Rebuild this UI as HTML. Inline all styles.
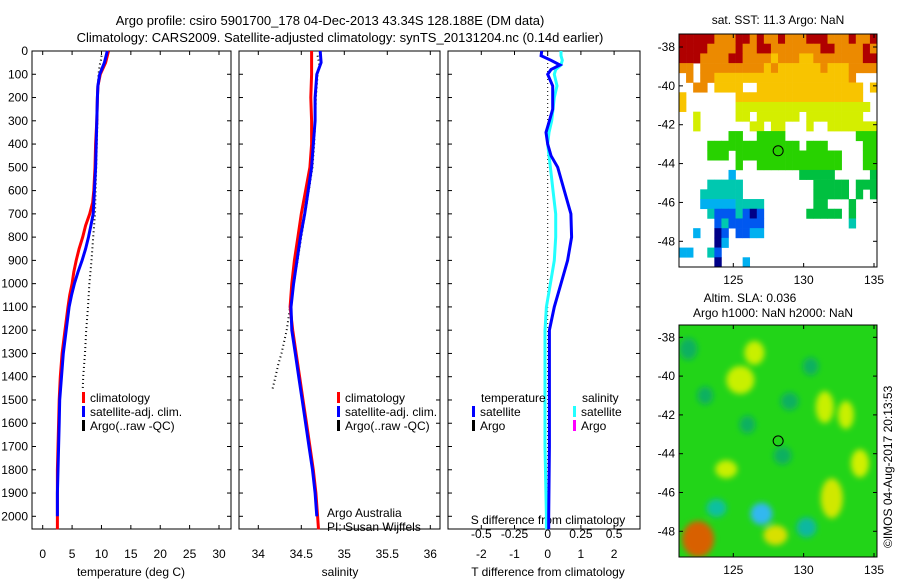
<!DOCTYPE html>
<html><head><meta charset="utf-8"><style>
body{margin:0;background:#fff;}
svg{display:block;font-family:"Liberation Sans",sans-serif;}
text{font-size:12px;fill:#000;}
</style></head><body>
<svg id="s" width="900" height="580" xmlns="http://www.w3.org/2000/svg">
<text x="330" y="25" text-anchor="middle" style="font-size:13px">Argo profile: csiro 5901700_178 04-Dec-2013 43.34S 128.188E (DM data)</text>
<text x="340" y="42" text-anchor="middle" style="font-size:13px">Climatology: CARS2009. Satellite-adjusted climatology: synTS_20131204.nc (0.14d earlier)</text>
<text x="778" y="24" text-anchor="middle">sat. SST: 11.3 Argo: NaN</text>
<text x="750" y="302" text-anchor="middle">Altim. SLA: 0.036</text>
<text x="773" y="317" text-anchor="middle">Argo h1000: NaN h2000: NaN</text>
<text transform="translate(892,548) rotate(-90)">©IMOS 04-Aug-2017 20:13:53</text>
<text x="327" y="517">Argo Australia</text>
<text x="327" y="531">PI: Susan Wijffels</text>
<defs><filter id="bl" x="-50%" y="-50%" width="200%" height="200%"><feGaussianBlur stdDeviation="3"/></filter>
<clipPath id="c2"><rect x="679" y="325" width="198" height="232"/></clipPath></defs>
</svg>
<script>
// ---- data ----
const depthTicks=[0,100,200,300,400,500,600,700,800,900,1000,1100,1200,1300,1400,1500,1600,1700,1800,1900,2000];
const tempTicks=[0,5,10,15,20,25,30];
const salTicks=[34,34.5,35,35.5,36];
const tdiffTicks=[-2,-1,0,1,2];
const sdiffTicks=[-0.5,-0.25,0,0.25,0.5];
const sdiffLabels=["-0.5","-0.25","0","0.25","0.5"];
const climDepth=[0,50,100,150,200,300,400,500,600,650,700,750,800,850,900,950,1000,1050,1100,1200,1300,1400,1500,1600,1700,1800,1900,2000,2056];
const climTemp=[11.2,10.7,9.8,9.4,9.3,9.2,9.0,8.9,8.7,8.5,8.0,7.3,6.8,6.2,5.7,5.3,5.0,4.6,4.3,3.8,3.3,3.0,2.8,2.7,2.6,2.5,2.5,2.5,2.5];
const satDepth=[0,50,100,150,200,300,400,500,600,650,700,750,800,850,900,950,1000,1050,1100,1200,1300,1400,1500,1600,1700,1800,1900,2000];
const satTemp=[11.0,10.5,9.7,9.4,9.3,9.2,9.1,9.0,8.8,8.7,8.6,8.2,7.8,7.3,6.7,6.0,5.4,4.9,4.5,4.0,3.5,3.2,2.9,2.8,2.7,2.6,2.5,2.5];
const argoDepth=[20,40,60,80,100,200,300,400,500,600,700,800,900,1000,1100,1200,1300,1400,1460];
const argoTemp=[10.0,9.9,9.7,9.6,9.5,9.3,9.3,9.2,9.1,9.0,8.9,8.6,8.3,7.95,7.7,7.4,7.2,6.9,6.8];
const salDepth=[0,100,200,300,400,500,600,700,800,900,1000,1100,1200,1300,1400,1500,1600,1700,1800,1900,2000,2056];
const climSal=[34.62,34.62,34.61,34.62,34.62,34.6,34.55,34.5,34.46,34.42,34.39,34.37,34.4,34.44,34.48,34.52,34.56,34.6,34.64,34.67,34.69,34.7];
const satSalDepth=[0,50,100,200,300,400,500,600,700,800,900,1000,1100,1200,1300,1400,1500,1600,1700,1800,1900,2000];
const satSal=[34.72,34.73,34.68,34.66,34.66,34.64,34.62,34.58,34.54,34.49,34.45,34.41,34.38,34.39,34.43,34.47,34.51,34.55,34.59,34.63,34.66,34.68];
const argoSalDepth=[20,60,100,200,300,400,500,1100,1150,1200,1250,1300,1350,1400,1460];
const argoSal=[34.69,34.71,34.69,34.67,34.66,34.65,34.63,34.37,34.35,34.33,34.30,34.27,34.23,34.2,34.16];
const diffDepth=[0,20,40,60,80,100,150,200,250,300,350,400,450,500,600,700,800,900,1000,1100,1200,1300,1500,1700,2000,2056];
const tDiff=[-0.18,-0.2,0.1,0.37,0.1,0.0,0.15,0.15,0.15,0.05,-0.05,0.0,0.1,0.3,0.5,0.7,0.72,0.6,0.4,0.2,0.05,0.05,0.05,0.05,0.03,0.03];
const sDiff=[0.1,0.1,0.11,0.1,0.06,0.05,0.07,0.05,0.04,0.03,0.01,0.0,0.01,0.02,0.04,0.06,0.06,0.05,0.02,-0.01,-0.02,-0.02,-0.02,-0.02,-0.01,-0.01];
const sstGrid=[
"RRRRROOORROROOROOORRROOOROOR","RRRROOOOROORROOOOOOORROOOORO","RRROOOORROOOOYOOOYYOOOOOOORR",
"OO.OOOOOOOOOYOYYYYYYOYYYOOOO",".O.OOYYYYYYYYYYYYYYYYYYYO...","..OO.YYYY..YYYYYYYYYYYYYYY.Y",
"Y.......YYYYYYYYYYYYYYYYYY..","Y.......LLLLLLLLLLLLLLLLLLL.","..L.....LL.LLLLLL.LLLLLLLL..",
"..L.......LL.LL...L..LLLLLLL",".......GG..GGGG..........GGG","....GGGGGGGGGGGGG.GGG.....GG",
"....GGG.GGGGGGGGGGGGGGG...GG","........G..GGGGGGGGGGGG...GG",".......C.........ddddd.....d",
"....TTTTT..........ddddd.ddd","...TTTTTT..........ddddd.d.d","...CCCCCTTTT.......dd...d...",
"....TBBBTBNB......ddddd.d...",".....BTBBBBB............T...","..C..NB.BBCC................",
".....NC.....................","CC..TB......................",".....N...C.................."];
const sstColors={R:"#b00000",O:"#ec8a00",Y:"#f8c400",L:"#d4ee00",G:"#28d200",d:"#00c040",T:"#00c8b0",C:"#00b0f0",B:"#0058f0",N:"#000088"};
const slaLon=[122.5,127,123.8,128,132,125.5,129,130.2,134,121.8,124.5,128.5,131.5,126.5,133,126,130.5,123];
const slaLat=[-48.4,-47.1,-46.8,-48.2,-46.3,-40.2,-41.3,-47.8,-44.5,-38.6,-44.8,-44.1,-41.6,-38.8,-42,-42.5,-39.5,-41];
const slaColor=["#d86000","#30b8f0","#10c0a0","#d8e000","#d0e800","#c8f000","#10b060","#10b8a0","#d0f000","#10b060","#c8f000","#10b060","#c8f000","#c8f000","#c8f000","#10b060","#10b060","#10b060"];
const slaRx=[16,11,10,12,11,14,9,10,9,9,11,9,9,10,8,8,8,8];
const slaRy=[18,11,9,10,20,14,9,10,14,11,9,9,16,12,14,9,9,9];

// ---- helpers ----
const S=document.getElementById('s');const NS="http://www.w3.org/2000/svg";
function mk(t,a){const e=document.createElementNS(NS,t);for(const k in a)e.setAttribute(k,a[k]);S.appendChild(e);return e;}
const y0=51,yB=529;
const yD=d=>51+d*(516.3-51)/2000;
const xT=t=>42.7+t*(219-42.7)/30;
const xS=s=>258.3+(s-34)*86;
const xTd=t=>547.7+t*33.2;
const xSd=s=>547.7+s*4*33.2;
const mxLon=l=>733.3+(l-125)*14.07;
const myLat1=l=>47+(-38-l)*19.43;
const myLat2=l=>337.3+(-38-l)*19.4;

function line(depths,vals,fx,col,w,dash,name){
  const p=depths.map((d,i)=>fx(vals[i]).toFixed(1)+","+yD(d).toFixed(1)).join(" ");
  const e=mk('polyline',{points:p,fill:'none',stroke:col,'stroke-width':w});
  if(dash)e.setAttribute('stroke-dasharray',dash);
  
  
}
function frame(x1,x2,name){
  const r=mk('rect',{x:x1,y:y0,width:x2-x1,height:yB-y0,fill:'none',stroke:'#000','stroke-width':1});
  
  
  depthTicks.forEach(d=>{const y=yD(d);mk('line',{x1:x1,x2:x1+4,y1:y,y2:y,stroke:'#000'});mk('line',{x1:x2-4,x2:x2,y1:y,y2:y,stroke:'#000'});});
}
function xticks(ticks,fx,labels,y,name){
  ticks.forEach((t,i)=>{const x=fx(t);mk('line',{x1:x,x2:x,y1:yB,y2:yB-4,stroke:'#000'});mk('line',{x1:x,x2:x,y1:y0,y2:y0+4,stroke:'#000'});
    const e=mk('text',{x:x,y:y,'text-anchor':'middle'});e.textContent=labels?labels[i]:String(t);
    
    });
}
// panel 1
frame(32,231,'temperature-panel');
depthTicks.forEach(d=>{const e=mk('text',{x:28,y:yD(d)+4,'text-anchor':'end'});e.textContent=d;
  
  });
xticks(tempTicks,xT,null,558,'temperature-tick-label');
let t=mk('text',{x:131,y:576,'text-anchor':'middle'});t.textContent='temperature (deg C)';


line(argoDepth,argoTemp,xT,'#000',2,'1,3','temp-argo-dots');
line(climDepth,climTemp,xT,'#f00',3,null,'temp-climatology-line');
line(satDepth,satTemp,xT,'#00f',3,null,'temp-satellite-line');
// panel 2
frame(239,440,'salinity-panel');
xticks(salTicks,xS,null,558,'salinity-tick-label');
t=mk('text',{x:340,y:576,'text-anchor':'middle'});t.textContent='salinity';


line(argoSalDepth,argoSal,xS,'#000',2,'1,3','sal-argo-dots');
line(salDepth,climSal,xS,'#f00',3,null,'sal-climatology-line');
line(satSalDepth,satSal,xS,'#00f',3,null,'sal-satellite-line');
// panel 3
frame(448,640,'difference-panel');
xticks(tdiffTicks,xTd,null,558,'tdiff-tick-label');
sdiffTicks.forEach((s,i)=>{const e=mk('text',{x:xSd(s),y:538,'text-anchor':'middle'});e.textContent=sdiffLabels[i];
  
  });
t=mk('text',{x:548,y:524,'text-anchor':'middle'});t.textContent='S difference from climatology';


t=mk('text',{x:548,y:576,'text-anchor':'middle'});t.textContent='T difference from climatology';


t=mk('line',{x1:xTd(0),x2:xTd(0),y1:y0,y2:yB,stroke:'#000','stroke-dasharray':'1,3'});


line(diffDepth,sDiff,xSd,'#2ff',3,null,'sdiff-satellite-line');
line(diffDepth,tDiff,xTd,'#00f',3,null,'tdiff-satellite-line');
// legends
function leg(x,y,col,label,name){
  const b=mk('rect',{x:x,y:y-10,width:3,height:11,fill:col});
  
  
  if(label){const e=mk('text',{x:x+8,y:y});e.textContent=label;
  
  }
}
[[82,"#f00","climatology"],[82,"#00f","satellite-adj. clim."],[82,"#000","Argo(..raw -QC)"]].forEach((l,i)=>leg(l[0],402+i*14,l[1],l[2],'temp-legend-entry'));
[[337,"#f00","climatology"],[337,"#00f","satellite-adj. clim."],[337,"#000","Argo(..raw -QC)"]].forEach((l,i)=>leg(l[0],402+i*14,l[1],l[2],'sal-legend-entry'));
t=mk('text',{x:481,y:402});t.textContent='temperature';


t=mk('text',{x:582,y:402});t.textContent='salinity';


leg(472,416,'#00f','satellite','tdiff-legend-satellite');
leg(472,430,'#000','Argo','tdiff-legend-argo');
leg(573,416,'#2ff','satellite','sdiff-legend-satellite');
leg(573,430,'#f0f','Argo','sdiff-legend-argo');
// map 1 SST
const cw=198/28,ch=233/24;
sstGrid.forEach((row,r)=>{for(let c=0;c<row.length;c++){const k=row[c];if(k==='.')continue;
  const e=mk('rect',{x:(679+c*cw).toFixed(2),y:(34+r*ch).toFixed(2),width:(cw+0.3).toFixed(2),height:(ch+0.3).toFixed(2),fill:sstColors[k]});
  
  }});
function mapAxes(top,h,fy,name){
  const r=mk('rect',{x:679,y:top,width:198,height:h,fill:'none',stroke:'#000'});
  
  
  [125,130,135].forEach(l=>{const x=mxLon(l);mk('line',{x1:x,x2:x,y1:top+h,y2:top+h-4,stroke:'#000'});mk('line',{x1:x,x2:x,y1:top,y2:top+4,stroke:'#000'});
    const e=mk('text',{x:x,y:top+h+17,'text-anchor':'middle'});e.textContent=l;
    
    });
  [-38,-40,-42,-44,-46,-48].forEach(l=>{const y=fy(l);mk('line',{x1:679,x2:683,y1:y,y2:y,stroke:'#000'});mk('line',{x1:873,x2:877,y1:y,y2:y,stroke:'#000'});
    const e=mk('text',{x:675,y:y+4,'text-anchor':'end'});e.textContent=l;
    
    });
  const c=mk('circle',{cx:mxLon(128.188),cy:fy(-43.34),r:5,fill:'none',stroke:'#000'});
  
  
}
mapAxes(34,233,myLat1,'sst-map');
// map 2 SLA
const bg=mk('rect',{x:679,y:325,width:198,height:232,fill:'#22d418'});


const g=mk('g',{'clip-path':'url(#c2)'});
const g2=document.createElementNS(NS,'g');g2.setAttribute('filter','url(#bl)');g.appendChild(g2);
slaLon.forEach((l,i)=>{const e=document.createElementNS(NS,'ellipse');
  e.setAttribute('cx',mxLon(l));e.setAttribute('cy',myLat2(slaLat[i]));e.setAttribute('rx',slaRx[i]);e.setAttribute('ry',slaRy[i]);e.setAttribute('fill',slaColor[i]);
  
  
  g2.appendChild(e);});
mapAxes(325,232,myLat2,'sla-map');
</script>
</body></html>
